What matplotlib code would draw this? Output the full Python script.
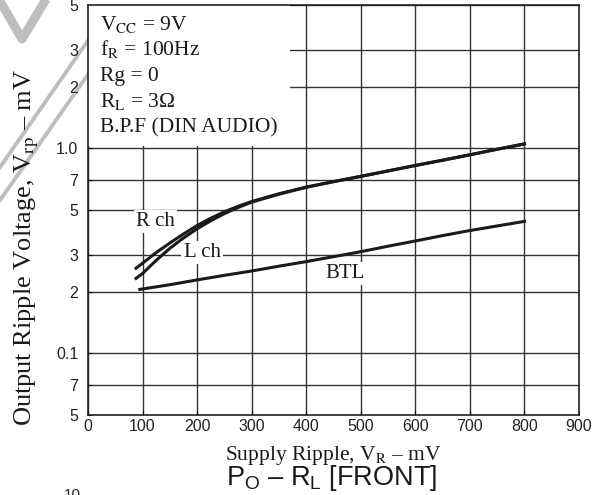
import matplotlib
matplotlib.use('Agg')
import matplotlib.pyplot as plt
from matplotlib.lines import Line2D
from matplotlib.patches import Rectangle

plt.rcParams['mathtext.fontset'] = 'custom'
plt.rcParams['mathtext.rm'] = 'Liberation Sans'

# data
supply_ripple = [88, 100, 125, 150, 175, 200, 225, 250, 275, 300, 350, 400,
                 450, 500, 550, 600, 650, 700, 750, 800]
r_ch = [0.26, 0.275, 0.31, 0.345, 0.382, 0.42, 0.456, 0.49, 0.521, 0.55,
        0.60, 0.647, 0.688, 0.73, 0.776, 0.825, 0.875, 0.93, 0.99, 1.05]
l_ch = [0.232, 0.245, 0.284, 0.325, 0.365, 0.405, 0.443, 0.48, 0.514, 0.546,
        0.597, 0.645, 0.687, 0.729, 0.775, 0.824, 0.874, 0.929, 0.989, 1.05]
btl_x = [95, 150, 200, 250, 300, 350, 400, 450, 500, 550, 600, 650, 700,
         750, 800]
btl = [0.205, 0.216, 0.228, 0.24, 0.252, 0.266, 0.28, 0.296, 0.313, 0.333,
       0.353, 0.375, 0.397, 0.418, 0.44]

x_ticks = [0, 100, 200, 300, 400, 500, 600, 700, 800, 900]
y_ticks = [0.05, 0.07, 0.1, 0.2, 0.3, 0.5, 0.7, 1.0, 2, 3, 5]
y_labels = ['5', '7', '0.1', '2', '3', '5', '7', '1.0', '2', '3', '5']
conditions = [r'V$_\mathrm{CC}$ = 9V', r'f$_\mathrm{R}$ = 100Hz', 'Rg = 0',
              r'R$_\mathrm{L}$ = 3Ω', 'B.P.F (DIN AUDIO)']

W, H = 597, 495
fig = plt.figure(figsize=(W / 100, H / 100), dpi=100)
ax = fig.add_axes([88 / W, 1 - 415 / H, 491 / W, 410 / H])


def px(x, y):
    return (x / W, 1 - y / H)


# grey watermark strokes behind the chart
wm = '#bebebe'
for pts, lw in [([(-3, -4), (22, 39), (48, -4)], 6.5),
                ([(96, 29), (-4, 173)], 2.8),
                ([(96, 63), (-4, 206)], 2.8)]:
    xs, ys = zip(*[px(a, b) for a, b in pts])
    fig.add_artist(Line2D(xs, ys, transform=fig.transFigure, color=wm,
                          lw=lw, zorder=-1, solid_capstyle='butt'))

ax.set_yscale('log')
ax.set_xlim(0, 900)
ax.set_ylim(0.05, 5)
ax.set_xticks(x_ticks)
ax.set_yticks(y_ticks)
ax.set_yticklabels(y_labels)
ax.yaxis.set_minor_locator(matplotlib.ticker.NullLocator())
ax.tick_params(axis='both', direction='in', length=3, labelsize=11.5,
               labelcolor='#222222', pad=3)
ax.tick_params(axis='y', pad=7)
for lab in ax.get_xticklabels() + ax.get_yticklabels():
    lab.set_fontfamily('Liberation Sans')
ax.set_axisbelow(True)
ax.grid(True, color='#333333', lw=1.0)
for s in ax.spines.values():
    s.set_linewidth(1.2)
    s.set_color('#222222')

# white box under the conditions hides the grid
ax.add_patch(Rectangle((0, 1.03), 370, 5, facecolor='white',
                       edgecolor='none', zorder=1))

ax.plot(supply_ripple, r_ch, color='#1a1a1a', lw=2.2, zorder=2)
ax.plot(supply_ripple, l_ch, color='#1a1a1a', lw=2.2, zorder=2)
ax.plot(btl_x, btl, color='#1a1a1a', lw=2.2, zorder=2)

serif = dict(fontfamily='Liberation Serif', math_fontfamily='stix',
             color='#1a1a1a')
box = dict(facecolor='white', edgecolor='none', pad=1.5)
ax.text(123, 0.44, 'R ch', ha='center', va='center', fontsize=15,
        bbox=box, zorder=3, **serif)
ax.text(209, 0.31, 'L ch', ha='center', va='center', fontsize=15,
        bbox=box, zorder=3, **serif)
ax.text(472, 0.245, 'BTL', ha='center', va='center', fontsize=15,
        bbox=box, zorder=3, **serif)

baselines = [30, 55, 81, 107, 132]
for txt, yb in zip(conditions, baselines):
    fig.text(100 / W, 1 - yb / H, txt, ha='left', va='baseline',
             fontsize=15.5, zorder=4, **serif)

fig.text(333 / W, 1 - 460 / H, r'Supply Ripple, V$_\mathrm{R}$ – mV',
         ha='center', va='baseline', fontsize=15.5, **serif)
fig.text(27 / W, 1 - 247 / H, r'Output Ripple Voltage, V$_\mathrm{rp}$ – mV',
         ha='center', va='center', rotation=90, fontsize=19, **serif)

fig.text(332 / W, 1 - 485 / H, r'P$_\mathrm{O}$ – R$_\mathrm{L}$ [FRONT]',
         ha='center', va='baseline', fontsize=19.5, fontfamily='Liberation Sans',
         math_fontfamily='custom', color='#1a1a1a')
fig.text(72 / W, 1 - 488 / H, '10', ha='center', va='top', fontsize=11,
         fontfamily='Liberation Sans', color='#222222')

fig.savefig('out.png', dpi=100)
